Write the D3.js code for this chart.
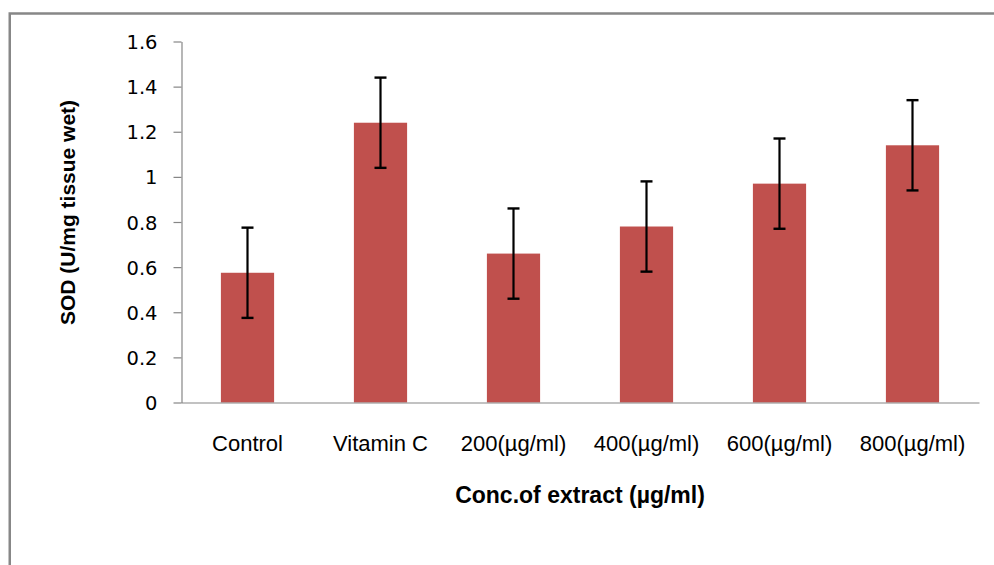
<!DOCTYPE html>
<html>
<head>
<meta charset="utf-8">
<script src="https://cdn.jsdelivr.net/npm/d3@7/dist/d3.min.js"></script>
<style>
  html, body { margin: 0; padding: 0; background: #ffffff; }
  svg { display: block; }
</style>
</head>
<body>
<script>
// ---- data ----
const categories = ["Control", "Vitamin C", "200(µg/ml)", "400(µg/ml)", "600(µg/ml)", "800(µg/ml)"];
const sodValues  = [0.575, 1.24, 0.66, 0.78, 0.97, 1.14];
const sodErrors  = [0.2, 0.2, 0.2, 0.2, 0.2, 0.2];
const yTickValues = [0, 0.2, 0.4, 0.6, 0.8, 1, 1.2, 1.4, 1.6];
const yTickLabels = ["0", "0.2", "0.4", "0.6", "0.8", "1", "1.2", "1.4", "1.6"];
const xTitle = "Conc.of extract (µg/ml)";
const yTitle = "SOD (U/mg tissue wet)";

// ---- layout ----
const W = 994, H = 565;
const axisColor = "#868686";
const barColor = "#C0504D";

const svg = d3.select("body").append("svg")
  .attr("width", W).attr("height", H);

svg.append("rect").attr("x", 0).attr("y", 0).attr("width", W).attr("height", H).attr("fill", "#fff");

// outer chart frame (extends beyond the visible canvas at right/bottom)
svg.append("rect")
  .attr("x", 9.75).attr("y", 13.5)
  .attr("width", 1200).attr("height", 1000)
  .attr("fill", "none").attr("stroke", "#878787").attr("stroke-width", 2.5);

const x = d3.scaleBand()
  .domain(categories)
  .range([181, 979])
  .paddingInner(0.6)
  .paddingOuter(0.3);

const y = d3.scaleLinear()
  .domain([0, 1.6])
  .range([402.5, 41.5]);

// bars
svg.append("g").selectAll("rect")
  .data(categories)
  .join("rect")
  .attr("x", d => x(d))
  .attr("width", x.bandwidth())
  .attr("y", (d, i) => y(sodValues[i]))
  .attr("height", (d, i) => y(0) - y(sodValues[i]))
  .attr("fill", barColor);

// y axis
const yAxis = d3.axisLeft(y)
  .tickValues(yTickValues)
  .tickFormat((d, i) => yTickLabels[i])
  .tickSize(8)
  .tickSizeOuter(0)
  .tickPadding(16);

const gy = svg.append("g")
  .attr("transform", "translate(181.5,0)")
  .call(yAxis);
gy.select(".domain").attr("stroke", axisColor).attr("stroke-width", 1.2);
gy.selectAll(".tick line").attr("stroke", axisColor).attr("stroke-width", 1.2);
gy.selectAll(".tick text")
  .attr("fill", "#000")
  .attr("font-family", "'DejaVu Sans', Verdana, sans-serif")
  .attr("font-size", 19.5)
  .attr("dy", "0.36em");

// x axis
const xAxis = d3.axisBottom(x).tickSize(0).tickSizeOuter(0).tickPadding(0);
const gx = svg.append("g")
  .attr("transform", `translate(0,${y(0)})`)
  .call(xAxis);
gx.select(".domain").attr("stroke", axisColor).attr("stroke-width", 1.2);
gx.selectAll(".tick text")
  .attr("fill", "#000")
  .attr("font-family", "'Liberation Sans', Arial, sans-serif")
  .attr("font-size", 22)
  .attr("y", 48.5)
  .attr("dy", 0);

// error bars
const err = svg.append("g").attr("stroke", "#000").attr("fill", "none");
categories.forEach((c, i) => {
  const cx = x(c) + x.bandwidth() / 2;
  const top = y(sodValues[i] + sodErrors[i]);
  const bot = y(sodValues[i] - sodErrors[i]);
  err.append("line").attr("x1", cx).attr("x2", cx).attr("y1", top).attr("y2", bot).attr("stroke-width", 2.2);
  err.append("line").attr("x1", cx - 6).attr("x2", cx + 6).attr("y1", top).attr("y2", top).attr("stroke-width", 2.4);
  err.append("line").attr("x1", cx - 6).attr("x2", cx + 6).attr("y1", bot).attr("y2", bot).attr("stroke-width", 2.4);
});

// axis titles
svg.append("text")
  .attr("x", 580).attr("y", 503)
  .attr("text-anchor", "middle")
  .attr("font-family", "'Liberation Sans', Arial, sans-serif")
  .attr("font-weight", "bold")
  .attr("font-size", 23)
  .attr("fill", "#000")
  .text(xTitle);

svg.append("text")
  .attr("transform", "translate(75,212.5) rotate(-90)")
  .attr("text-anchor", "middle")
  .attr("font-family", "'Liberation Sans', Arial, sans-serif")
  .attr("font-weight", "bold")
  .attr("font-size", 21)
  .attr("fill", "#000")
  .text(yTitle);
</script>
</body>
</html>
